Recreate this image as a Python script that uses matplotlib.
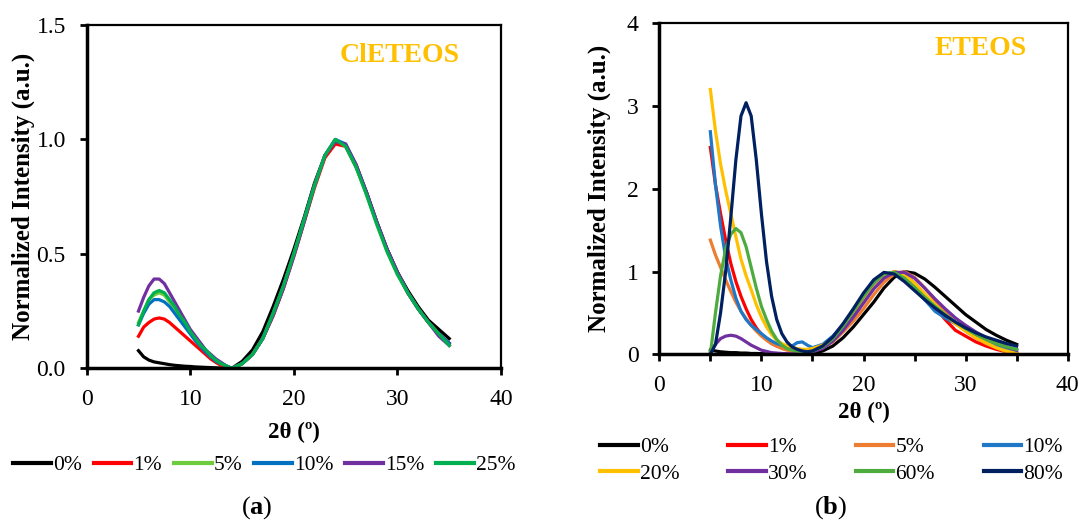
import matplotlib
matplotlib.use('Agg')
from matplotlib import pyplot as plt
from matplotlib.ticker import MultipleLocator

plt.rcParams['font.family'] = ['Liberation Serif', 'DejaVu Serif']
plt.rcParams['mathtext.fontset'] = 'custom'
plt.rcParams['mathtext.rm'] = 'Liberation Serif'
plt.rcParams['mathtext.bf'] = 'Liberation Serif:bold'

# 2theta grid (deg)
two_theta = [5, 5.5, 6, 6.5, 7, 7.5, 8, 8.5, 9, 9.5, 10, 10.5, 11, 11.5, 12, 12.5, 13, 13.5,
             14, 14.5, 15, 16, 17, 18, 19, 20, 21, 22, 23, 24, 25, 26, 27, 28, 29, 30,
             31, 32, 33, 34, 35]

# (a) ClETEOS
a_labels = ['0%', '1%', '5%', '10%', '15%', '25%']
a_colors = ['#000000', '#FF0000', '#6CCC3C', '#0070C0', '#7030A0', '#00B050']
a_0 = [0.077, 0.05, 0.036, 0.028, 0.024, 0.02, 0.016, 0.013, 0.011, 0.009, 0.008, 0.006, 0.005, 0.004, 0.003, 0.002, 0.001, 0.0,
       0.0, 0.015, 0.03, 0.08, 0.16, 0.27, 0.39, 0.52, 0.66, 0.81, 0.93, 0.99, 0.97, 0.88, 0.77, 0.64, 0.52, 0.42, 0.34, 0.27, 0.21, 0.17, 0.13]
a_1 = [0.14, 0.18, 0.2, 0.215, 0.22, 0.215, 0.2, 0.18, 0.16, 0.14, 0.12, 0.1, 0.08, 0.06, 0.04, 0.025, 0.012, 0.005,
       0.0, 0.008, 0.02, 0.06, 0.13, 0.23, 0.35, 0.49, 0.64, 0.79, 0.92, 0.98, 0.97, 0.89, 0.77, 0.64, 0.52, 0.42, 0.33, 0.26, 0.2, 0.15, 0.11]
a_5 = [0.2, 0.25, 0.3, 0.32, 0.33, 0.32, 0.29, 0.26, 0.23, 0.19, 0.16, 0.13, 0.1, 0.075, 0.05, 0.035, 0.02, 0.01,
       0.0, 0.01, 0.02, 0.06, 0.13, 0.24, 0.36, 0.5, 0.65, 0.8, 0.93, 1.0, 0.97, 0.88, 0.76, 0.63, 0.51, 0.41, 0.33, 0.26, 0.2, 0.15, 0.1]
a_10 = [0.19, 0.24, 0.28, 0.3, 0.3, 0.29, 0.27, 0.24, 0.21, 0.18, 0.15, 0.12, 0.095, 0.07, 0.05, 0.03, 0.02, 0.01,
        0.0, 0.01, 0.02, 0.06, 0.13, 0.24, 0.36, 0.5, 0.65, 0.8, 0.93, 1.0, 0.98, 0.89, 0.77, 0.64, 0.52, 0.42, 0.33, 0.26, 0.2, 0.15, 0.11]
a_15 = [0.25, 0.31, 0.36, 0.39, 0.39, 0.37, 0.33, 0.29, 0.25, 0.21, 0.17, 0.14, 0.11, 0.08, 0.06, 0.04, 0.025, 0.01,
        0.0, 0.01, 0.02, 0.06, 0.13, 0.23, 0.35, 0.49, 0.64, 0.8, 0.93, 0.99, 0.98, 0.89, 0.77, 0.64, 0.52, 0.42, 0.33, 0.26, 0.2, 0.14, 0.1]
a_25 = [0.19, 0.25, 0.3, 0.33, 0.34, 0.33, 0.3, 0.27, 0.23, 0.2, 0.16, 0.13, 0.1, 0.08, 0.055, 0.035, 0.02, 0.01,
        0.0, 0.01, 0.02, 0.06, 0.13, 0.24, 0.36, 0.5, 0.65, 0.8, 0.93, 1.0, 0.97, 0.88, 0.76, 0.63, 0.51, 0.41, 0.33, 0.26, 0.2, 0.15, 0.1]

# (b) ETEOS
b_labels = ['0%', '1%', '5%', '10%', '20%', '30%', '60%', '80%']
b_colors = ['#000000', '#FF0000', '#ED7D31', '#1F77C8', '#FFC000', '#7030A0', '#4EAB3E', '#002060']
b_0 = [0.05, 0.04, 0.03, 0.025, 0.02, 0.02, 0.015, 0.015, 0.01, 0.01, 0.008, 0.006, 0.005, 0.004, 0.003, 0.002, 0.002, 0.001,
       0.0, 0.005, 0.01, 0.04, 0.1, 0.2, 0.33, 0.48, 0.63, 0.8, 0.93, 1.0, 0.98, 0.91, 0.81, 0.7, 0.59, 0.48, 0.39, 0.3, 0.23, 0.17, 0.12]
b_1 = [2.5, 2.05, 1.7, 1.38, 1.1, 0.88, 0.7, 0.55, 0.42, 0.32, 0.24, 0.18, 0.13, 0.1, 0.08, 0.06, 0.05, 0.04,
       0.035, 0.035, 0.04, 0.09, 0.18, 0.31, 0.46, 0.63, 0.8, 0.93, 1.0, 0.96, 0.86, 0.72, 0.57, 0.42, 0.29, 0.22, 0.15, 0.1, 0.06, 0.03, 0.01]
b_5 = [1.38, 1.2, 1.05, 0.9, 0.76, 0.63, 0.52, 0.43, 0.35, 0.28, 0.22, 0.17, 0.13, 0.1, 0.07, 0.05, 0.04, 0.03,
       0.03, 0.03, 0.04, 0.08, 0.15, 0.27, 0.4, 0.55, 0.72, 0.87, 0.97, 1.0, 0.93, 0.8, 0.65, 0.51, 0.38, 0.28, 0.2, 0.13, 0.08, 0.03, 0.0]
b_10 = [2.69, 2.05, 1.55, 1.17, 0.9, 0.68, 0.52, 0.42, 0.35, 0.3, 0.25, 0.2, 0.16, 0.13, 0.11, 0.1, 0.1, 0.14,
        0.15, 0.11, 0.08, 0.12, 0.22, 0.36, 0.52, 0.7, 0.86, 0.97, 0.99, 0.92, 0.8, 0.66, 0.52, 0.44, 0.37, 0.3, 0.23, 0.16, 0.1, 0.06, 0.03]
b_20 = [3.2, 2.7, 2.3, 1.98, 1.7, 1.42, 1.15, 0.95, 0.78, 0.6, 0.45, 0.33, 0.24, 0.17, 0.13, 0.1, 0.08, 0.07,
        0.06, 0.06, 0.07, 0.11, 0.19, 0.31, 0.46, 0.63, 0.8, 0.93, 1.0, 0.96, 0.86, 0.73, 0.6, 0.48, 0.37, 0.28, 0.2, 0.14, 0.08, 0.04, 0.01]
b_30 = [0.02, 0.12, 0.19, 0.22, 0.23, 0.22, 0.19, 0.15, 0.11, 0.08, 0.05, 0.035, 0.02, 0.015, 0.01, 0.008, 0.005, 0.004,
        0.005, 0.01, 0.03, 0.07, 0.16, 0.29, 0.45, 0.62, 0.79, 0.92, 0.99, 0.99, 0.92, 0.8, 0.67, 0.55, 0.44, 0.35, 0.27, 0.2, 0.14, 0.09, 0.05]
b_60 = [0.0, 0.5, 0.95, 1.27, 1.45, 1.52, 1.47, 1.3, 1.05, 0.8, 0.58, 0.42, 0.28, 0.18, 0.11, 0.07, 0.05, 0.04,
        0.03, 0.03, 0.04, 0.09, 0.19, 0.34, 0.52, 0.7, 0.87, 0.97, 0.99, 0.92, 0.81, 0.69, 0.58, 0.48, 0.39, 0.31, 0.24, 0.18, 0.13, 0.09, 0.06]
b_80 = [0.0, 0.12, 0.5, 1.0, 1.65, 2.35, 2.88, 3.04, 2.88, 2.35, 1.7, 1.12, 0.7, 0.42, 0.25, 0.15, 0.09, 0.06,
        0.04, 0.03, 0.04, 0.1, 0.21, 0.37, 0.55, 0.74, 0.9, 0.99, 0.97, 0.88, 0.77, 0.66, 0.56, 0.47, 0.39, 0.32, 0.26, 0.21, 0.17, 0.13, 0.1]

W, H = 1079, 524
fig = plt.figure(figsize=(W / 100, H / 100), dpi=100)


def px_axes(l, t, r, b):
    return fig.add_axes([l / W, 1 - b / H, (r - l) / W, (b - t) / H])


def style(ax):
    for s in ['left', 'bottom']:
        ax.spines[s].set_linewidth(2.5)
    for s in ['top', 'right']:
        ax.spines[s].set_linewidth(1.6)
    ax.tick_params(which='both', direction='out', length=5, width=2, labelsize=17, pad=10,
                   top=False, right=False)
    ax.set_xlim(0, 40)
    ax.xaxis.set_major_locator(MultipleLocator(10))


xlab_kw = dict(fontsize=16.5, fontweight='bold')
ylab_kw = dict(fontsize=18, fontweight='bold')

# ---- (a)
ax1 = px_axes(86.7, 25, 501, 368.3)
style(ax1)
for y, lab, c in zip([a_0, a_1, a_5, a_10, a_15, a_25], a_labels, a_colors):
    ax1.plot(two_theta, y, color=c, lw=2.3, label=lab)
ax1.set_ylim(0, 1.5)
ax1.yaxis.set_major_locator(MultipleLocator(0.5))
ax1.yaxis.set_major_formatter('{x:.1f}')
ax1.set_xlabel('2θ (º)', va='center', **xlab_kw)
ax1.xaxis.set_label_coords(0.5, -0.186)
ax1.set_ylabel('Normalized Intensity (a.u.)', va='center', **ylab_kw)
ax1.yaxis.set_label_coords(-0.154, 0.5)
ax1.text(30.2, 1.366, 'ClETEOS', color='#FFC000', fontsize=20, fontweight='bold', ha='center', va='center')

h1, l1 = ax1.get_legend_handles_labels()
fig.legend(h1, l1, loc='center left', bbox_to_anchor=(13 / W, 1 - 465 / H), ncol=6, frameon=False,
           fontsize=15.5, handlelength=1.75, handletextpad=0.1, columnspacing=0.55, borderpad=0,
           borderaxespad=0)
for lh in fig.legends[-1].get_lines():
    lh.set_linewidth(3)

# ---- (b)
ax2 = px_axes(659.3, 23.3, 1067.7, 354.3)
style(ax2)
ax2.xaxis.set_minor_locator(MultipleLocator(5))
for y, lab, c in zip([b_0, b_1, b_5, b_10, b_20, b_30, b_60, b_80], b_labels, b_colors):
    ax2.plot(two_theta, y, color=c, lw=2.3, label=lab)
ax2.set_ylim(0, 4)
ax2.yaxis.set_major_locator(MultipleLocator(1))
ax2.set_xlabel('2θ (º)', va='center', **xlab_kw)
ax2.xaxis.set_label_coords(0.5, -0.177)
ax2.set_ylabel('Normalized Intensity (a.u.)', va='center', **ylab_kw)
ax2.yaxis.set_label_coords(-0.148, 0.5)
ax2.text(31.5, 3.69, 'ETEOS', color='#FFC000', fontsize=20, fontweight='bold', ha='center', va='center')

h2, l2 = ax2.get_legend_handles_labels()
order = [0, 4, 1, 5, 2, 6, 3, 7]
fig.legend([h2[i] for i in order], [l2[i] for i in order], loc='upper left',
           bbox_to_anchor=(600 / W, 1 - 437 / H), ncol=4, frameon=False,
           fontsize=15.5, handlelength=1.75, handletextpad=0.1, columnspacing=2.25, labelspacing=0.3,
           borderpad=0, borderaxespad=0)
for lh in fig.legends[-1].get_lines():
    lh.set_linewidth(3)

fig.text(257 / W, 1 - 508 / H, r'($\mathbf{a}$)', fontsize=19, ha='center', va='center')
fig.text(831 / W, 1 - 508 / H, r'($\mathbf{b}$)', fontsize=19, ha='center', va='center')

fig.savefig('out.png', dpi=100)
